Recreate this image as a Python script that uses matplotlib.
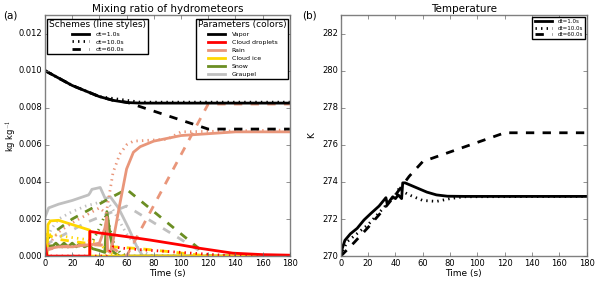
import matplotlib
matplotlib.use('Agg')
import matplotlib.pyplot as plt
from matplotlib.lines import Line2D

plt.style.use('classic')
plt.rcParams['font.family'] = ['DejaVu Sans']

# ---- data: mixing ratio (kg/kg), per scheme ----
# dt = 1.0 s (solid)
t1_vap = [0, 10, 20, 30, 40, 50, 60, 70, 180]
q1_vap = [0.0100, 0.0096, 0.0092, 0.0089, 0.0086, 0.0084, 0.00828, 0.00825, 0.00825]
t1_cld = [0, 1.5, 32.9, 33, 40, 50, 60, 77, 100, 114, 138, 160, 180]
q1_cld = [0.0006, 0.0, 0.0, 0.00133, 0.00125, 0.00115, 0.00105, 0.00087, 0.0006, 0.00042, 0.00016, 0.00008, 0.00005]
t1_rain = [0, 2, 10, 20, 30, 33, 40, 44, 45.5, 46, 48, 50, 55, 60, 65, 70, 80, 100, 140, 180]
q1_rain = [0, 0.0004, 0.0005, 0.0005, 0.0006, 0.0006, 0.0007, 0.0015, 0.0021, 0.0003, 0.0002, 0.0008, 0.0028, 0.0047, 0.0056, 0.0059, 0.0062, 0.0065, 0.0067, 0.0067]
t1_ice = [0, 1.5, 2.2, 4, 10, 20, 32.9, 33, 180]
q1_ice = [0.0, 0.0, 0.0017, 0.0019, 0.00193, 0.0017, 0.0014, 0.0, 0.0]
t1_snow = [0, 2, 5, 8, 11, 14, 17, 20, 23, 26, 29, 32, 35, 40, 44, 45.5, 48, 50.5, 55, 180]
q1_snow = [0.001, 0.0006, 0.0005, 0.0007, 0.0005, 0.0007, 0.0005, 0.0007, 0.0005, 0.0007, 0.0005, 0.0006, 0.0004, 0.0003, 0.0002, 0.0024, 0.0011, 0.0002, 0.0, 0.0]
t1_grp = [0, 2.7, 10, 20, 32, 33, 34.5, 40.6, 44.3, 48, 54, 61.5, 67.6, 72, 180]
q1_grp = [0.0021, 0.0026, 0.0028, 0.0030, 0.0033, 0.0034, 0.0036, 0.0037, 0.0031, 0.0032, 0.0026, 0.0015, 0.0005, 0.0, 0.0]

# dt = 10.0 s (dotted)
t10_vap = [0, 10, 20, 30, 40, 50, 60, 70, 180]
q10_vap = [0.0100, 0.0096, 0.0092, 0.0089, 0.0086, 0.0085, 0.0084, 0.0083, 0.0083]
t10_cld = [0, 45, 50, 60, 80, 100, 120, 140, 180]
q10_cld = [0, 0, 0.0005, 0.0004, 0.0003, 0.0002, 0.0001, 0.0, 0.0]
t10_rain = [0, 10, 20, 30, 40, 45, 50, 55, 60, 65, 90, 100, 180]
q10_rain = [0.0004, 0.0013, 0.0018, 0.0022, 0.0026, 0.0023, 0.0045, 0.0055, 0.0060, 0.0062, 0.0063, 0.0067, 0.0068]
t10_ice = [0, 5, 10, 20, 30, 40, 45, 50, 60, 180]
q10_ice = [0.0010, 0.0012, 0.0011, 0.0010, 0.0009, 0.0007, 0.0003, 0.0001, 0.0, 0.0]
t10_snow = [0, 10, 20, 30, 35, 40, 44, 46, 50, 55, 60, 180]
q10_snow = [0.0006, 0.0005, 0.0005, 0.0006, 0.0008, 0.0015, 0.0022, 0.0020, 0.0008, 0.0002, 0.0, 0.0]
t10_grp = [0, 5, 10, 20, 30, 40, 45, 50, 60, 70, 80, 180]
q10_grp = [0.0008, 0.0015, 0.0020, 0.0024, 0.0027, 0.0029, 0.0030, 0.0025, 0.0012, 0.0003, 0.0, 0.0]

# dt = 60.0 s (dashed)
t60_vap = [0, 10, 20, 30, 40, 50, 60, 120, 180]
q60_vap = [0.0100, 0.0096, 0.0092, 0.0089, 0.0086, 0.0084, 0.0083, 0.00685, 0.00685]
t60_rain = [0, 10, 30, 45, 55, 60, 120, 180]
q60_rain = [0.0003, 0.0005, 0.0006, 0.0006, 0.0002, 0.0, 0.0082, 0.0082]
t60_ice = [0, 10, 20, 30, 40, 50, 60, 70, 90, 120, 180]
q60_ice = [0.0012, 0.0009, 0.0008, 0.0007, 0.0006, 0.0005, 0.00045, 0.0004, 0.00025, 0.0, 0.0]
t60_snow = [0, 6, 20, 35, 47, 60, 120, 180]
q60_snow = [0.0008, 0.00125, 0.0020, 0.0026, 0.0031, 0.0036, 0.0, 0.0]
t60_grp = [0, 10, 20, 30, 40, 50, 60, 120, 180]
q60_grp = [0.0006, 0.0010, 0.0014, 0.0018, 0.0021, 0.0024, 0.0027, 0.0, 0.0]

# ---- data: temperature (K) ----
tT1 = [0, 1, 3, 7, 12, 17, 22, 28, 33, 34, 36, 38, 40, 42, 44.5, 45.3, 47, 55, 63, 70, 78, 90, 180]
T1 = [270.0, 270.4, 270.85, 271.2, 271.5, 271.95, 272.3, 272.7, 273.15, 272.8, 273.0, 273.2, 273.1, 273.3, 273.1, 273.95, 273.95, 273.7, 273.45, 273.3, 273.23, 273.22, 273.22]
tT10 = [0, 2, 5, 10, 20, 30, 35, 40, 43, 45, 50, 60, 70, 80, 90, 180]
T10 = [270.0, 270.4, 270.8, 271.1, 271.7, 272.5, 272.9, 273.3, 273.7, 273.5, 273.3, 273.0, 272.95, 273.1, 273.2, 273.22]
tT60 = [0, 10, 20, 30, 40, 50, 60, 120, 180]
T60 = [270.0, 270.75, 271.55, 272.4, 273.3, 274.3, 275.1, 276.65, 276.65]

params = ['Vapor', 'Cloud droplets', 'Rain', 'Cloud ice', 'Snow', 'Graupel']
colors = ['black', 'red', 'darksalmon', 'gold', 'olivedrab', 'silver']
schemes = ['dt=1.0s', 'dt=10.0s', 'dt=60.0s']
styles = ['-', ':', '--']

fig = plt.figure(figsize=(6, 2.83), dpi=100, facecolor='white')
ax1 = fig.add_axes([0.075, 0.095, 0.408, 0.852])
ax2 = fig.add_axes([0.568, 0.095, 0.410, 0.852])

lw = 2
# left panel: draw low-level first, vapor last
series = [
    ('Graupel', t1_grp, q1_grp, '-'), ('Graupel', t10_grp, q10_grp, ':'), ('Graupel', t60_grp, q60_grp, '--'),
    ('Snow', t1_snow, q1_snow, '-'), ('Snow', t10_snow, q10_snow, ':'), ('Snow', t60_snow, q60_snow, '--'),
    ('Cloud ice', t1_ice, q1_ice, '-'), ('Cloud ice', t10_ice, q10_ice, ':'), ('Cloud ice', t60_ice, q60_ice, '--'),
    ('Rain', t1_rain, q1_rain, '-'), ('Rain', t10_rain, q10_rain, ':'), ('Rain', t60_rain, q60_rain, '--'),
    ('Cloud droplets', t1_cld, q1_cld, '-'), ('Cloud droplets', t10_cld, q10_cld, ':'),
    ('Vapor', t1_vap, q1_vap, '-'), ('Vapor', t10_vap, q10_vap, ':'), ('Vapor', t60_vap, q60_vap, '--'),
]
for name, t, q, ls in series:
    ax1.plot(t, q, color=colors[params.index(name)], linestyle=ls, linewidth=lw)

ax1.set_xlim(0, 180)
ax1.set_ylim(0, 0.013)
ax1.set_xticks(range(0, 181, 20))
yt = [0.000, 0.002, 0.004, 0.006, 0.008, 0.010, 0.012]
ax1.set_yticks(yt)
ax1.set_yticklabels(['%.3f' % v for v in yt])
ax1.set_title('Mixing ratio of hydrometeors', fontsize=7.5, pad=2)
ax1.set_xlabel('Time (s)', fontsize=6.5, labelpad=1)
ax1.set_ylabel('kg kg$^{-1}$', fontsize=6)
ax1.yaxis.set_label_coords(-0.112, 0.5)

h_sch = [Line2D([], [], color='black', linestyle=s, linewidth=lw) for s in styles]
leg1 = ax1.legend(h_sch, schemes, loc='upper left', bbox_to_anchor=(0.008, 0.985), borderaxespad=0,
                  title='Schemes (line styles)', fontsize=4.5, handlelength=3.2, labelspacing=0.35,
                  borderpad=0.3, handletextpad=0.8, fancybox=False)
leg1.get_title().set_fontsize(6.5)
ax1.add_artist(leg1)
h_par = [Line2D([], [], color=c, linestyle='-', linewidth=lw) for c in colors]
leg2 = ax1.legend(h_par, params, loc='upper right', bbox_to_anchor=(0.993, 0.985), borderaxespad=0,
                  title='Parameters (colors)', fontsize=4.5, handlelength=3.2, labelspacing=0.4,
                  borderpad=0.3, handletextpad=0.8, fancybox=False)
leg2.get_title().set_fontsize(6.5)

# right panel
ax2.plot(tT1, T1, color='black', linestyle='-', linewidth=lw, label='dt=1.0s')
ax2.plot(tT10, T10, color='black', linestyle=':', linewidth=lw, label='dt=10.0s')
ax2.plot(tT60, T60, color='black', linestyle='--', linewidth=lw, label='dt=60.0s')
ax2.set_xlim(0, 180)
ax2.set_ylim(270, 283)
ax2.set_xticks(range(0, 181, 20))
ax2.set_yticks(range(270, 283, 2))
ax2.set_title('Temperature', fontsize=7.5, pad=2)
ax2.set_xlabel('Time (s)', fontsize=6.5, labelpad=1)
ax2.set_ylabel('K', fontsize=6.5)
ax2.yaxis.set_label_coords(-0.10, 0.5)
ax2.legend(loc='upper right', bbox_to_anchor=(0.993, 0.99), borderaxespad=0, fontsize=4, handlelength=3.6,
           labelspacing=0.3, borderpad=0.3, handletextpad=0.8, fancybox=False)

for ax in (ax1, ax2):
    ax.tick_params(labelsize=6, length=3, pad=2, color='0.4')
    for sp in ax.spines.values():
        sp.set_color('0.5')

fig.text(0.005, 0.935, '(a)', fontsize=7.5)
fig.text(0.503, 0.935, '(b)', fontsize=7.5)

fig.savefig('out.png', dpi=100, facecolor='white')
